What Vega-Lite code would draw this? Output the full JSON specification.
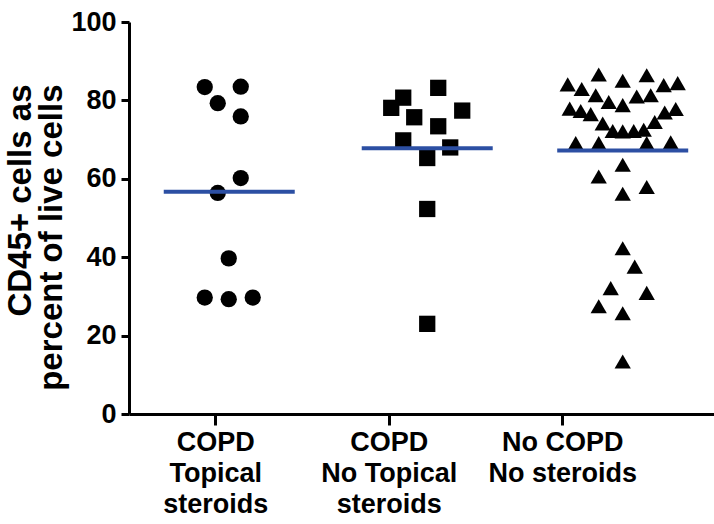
{
  "$schema": "https://vega.github.io/schema/vega-lite/v6.json",
  "autosize": {"type": "none"},
  "width": 585,
  "height": 392,
  "padding": {"left": 129, "top": 22, "right": 0, "bottom": 110},
  "background": "white",
  "config": {
    "view": {"stroke": null},
    "font": "Liberation Sans",
    "axis": {
      "labelFont": "Liberation Sans",
      "titleFont": "Liberation Sans",
      "labelFontWeight": "bold",
      "titleFontWeight": "bold",
      "labelColor": "black",
      "titleColor": "black",
      "domainColor": "black",
      "tickColor": "black",
      "domainWidth": 3,
      "tickWidth": 3,
      "grid": false
    }
  },
  "datasets": {
    "points": [
      {"group": "COPD Topical steroids", "pct": 83.4, "dx": -11},
      {"group": "COPD Topical steroids", "pct": 83.5, "dx": 25},
      {"group": "COPD Topical steroids", "pct": 79.3, "dx": 2},
      {"group": "COPD Topical steroids", "pct": 75.9, "dx": 25},
      {"group": "COPD Topical steroids", "pct": 60.2, "dx": 25},
      {"group": "COPD Topical steroids", "pct": 56.4, "dx": 2},
      {"group": "COPD Topical steroids", "pct": 39.7, "dx": 13},
      {"group": "COPD Topical steroids", "pct": 29.7, "dx": -11},
      {"group": "COPD Topical steroids", "pct": 29.3, "dx": 13},
      {"group": "COPD Topical steroids", "pct": 29.7, "dx": 37},
      {"group": "COPD No Topical steroids", "pct": 83.2, "dx": 49},
      {"group": "COPD No Topical steroids", "pct": 80.7, "dx": 14},
      {"group": "COPD No Topical steroids", "pct": 78.1, "dx": 2},
      {"group": "COPD No Topical steroids", "pct": 77.4, "dx": 73},
      {"group": "COPD No Topical steroids", "pct": 75.7, "dx": 25},
      {"group": "COPD No Topical steroids", "pct": 73.4, "dx": 49},
      {"group": "COPD No Topical steroids", "pct": 69.8, "dx": 14},
      {"group": "COPD No Topical steroids", "pct": 68.0, "dx": 61},
      {"group": "COPD No Topical steroids", "pct": 65.3, "dx": 38},
      {"group": "COPD No Topical steroids", "pct": 52.3, "dx": 38},
      {"group": "COPD No Topical steroids", "pct": 23.0, "dx": 38},
      {"group": "No COPD No steroids", "pct": 86.6, "dx": 36},
      {"group": "No COPD No steroids", "pct": 86.4, "dx": 84},
      {"group": "No COPD No steroids", "pct": 84.1, "dx": 5},
      {"group": "No COPD No steroids", "pct": 85.0, "dx": 60},
      {"group": "No COPD No steroids", "pct": 83.9, "dx": 101},
      {"group": "No COPD No steroids", "pct": 84.4, "dx": 115},
      {"group": "No COPD No steroids", "pct": 82.9, "dx": 19},
      {"group": "No COPD No steroids", "pct": 81.3, "dx": 33},
      {"group": "No COPD No steroids", "pct": 81.0, "dx": 74},
      {"group": "No COPD No steroids", "pct": 81.3, "dx": 88},
      {"group": "No COPD No steroids", "pct": 79.6, "dx": 46},
      {"group": "No COPD No steroids", "pct": 78.8, "dx": 60},
      {"group": "No COPD No steroids", "pct": 77.9, "dx": 7},
      {"group": "No COPD No steroids", "pct": 77.3, "dx": 18},
      {"group": "No COPD No steroids", "pct": 76.5, "dx": 28},
      {"group": "No COPD No steroids", "pct": 76.9, "dx": 102},
      {"group": "No COPD No steroids", "pct": 77.8, "dx": 113},
      {"group": "No COPD No steroids", "pct": 74.1, "dx": 40},
      {"group": "No COPD No steroids", "pct": 74.5, "dx": 92},
      {"group": "No COPD No steroids", "pct": 72.2, "dx": 50},
      {"group": "No COPD No steroids", "pct": 72.1, "dx": 60},
      {"group": "No COPD No steroids", "pct": 72.2, "dx": 71},
      {"group": "No COPD No steroids", "pct": 72.5, "dx": 81},
      {"group": "No COPD No steroids", "pct": 69.1, "dx": 13},
      {"group": "No COPD No steroids", "pct": 69.1, "dx": 36},
      {"group": "No COPD No steroids", "pct": 69.1, "dx": 84},
      {"group": "No COPD No steroids", "pct": 69.3, "dx": 108},
      {"group": "No COPD No steroids", "pct": 63.6, "dx": 60},
      {"group": "No COPD No steroids", "pct": 60.6, "dx": 36},
      {"group": "No COPD No steroids", "pct": 57.9, "dx": 84},
      {"group": "No COPD No steroids", "pct": 56.2, "dx": 60},
      {"group": "No COPD No steroids", "pct": 42.3, "dx": 60},
      {"group": "No COPD No steroids", "pct": 37.6, "dx": 72},
      {"group": "No COPD No steroids", "pct": 32.1, "dx": 48},
      {"group": "No COPD No steroids", "pct": 30.9, "dx": 84},
      {"group": "No COPD No steroids", "pct": 27.5, "dx": 36},
      {"group": "No COPD No steroids", "pct": 25.7, "dx": 60},
      {"group": "No COPD No steroids", "pct": 13.4, "dx": 60}
    ],
    "means": [
      {"group": "COPD Topical steroids", "pct": 56.7, "dx": 13.5},
      {"group": "COPD No Topical steroids", "pct": 67.8, "dx": 38},
      {"group": "No COPD No steroids", "pct": 67.2, "dx": 60}
    ]
  },
  "encoding": {
    "x": {
      "field": "group",
      "type": "nominal",
      "sort": ["COPD Topical steroids", "COPD No Topical steroids", "No COPD No steroids"],
      "scale": {"domain": ["COPD Topical steroids", "COPD No Topical steroids", "No COPD No steroids"], "paddingInner": 0, "paddingOuter": 0.186, "align": 0},
      "axis": {
        "title": null,
        "labelAngle": 0,
        "labelFontSize": 27,
        "labelLineHeight": 31,
        "labelPadding": 4,
        "tickSize": 11,
        "labelExpr": "datum.label == 'COPD Topical steroids' ? ['COPD', 'Topical', 'steroids'] : datum.label == 'COPD No Topical steroids' ? ['COPD', 'No Topical', 'steroids'] : ['No COPD', 'No steroids']"
      }
    },
    "xOffset": {"field": "dx", "type": "quantitative", "scale": {"domain": [-86.75, 86.75]}},
    "y": {
      "field": "pct",
      "type": "quantitative",
      "scale": {"domain": [0, 100], "nice": false, "zero": true},
      "axis": {
        "title": ["CD45+ cells as", "percent of live cells"],
        "titleFontSize": 33,
        "titleLineHeight": 31,
        "titlePadding": 2,
        "titleAlign": "right",
        "titleY": 62,
        "values": [0, 20, 40, 60, 80, 100],
        "labelFontSize": 27,
        "labelPadding": 5,
        "tickSize": 8
      }
    }
  },
  "layer": [
    {
      "data": {"name": "points"},
      "mark": {"type": "point", "filled": true, "opacity": 1, "color": "black", "size": 265},
      "encoding": {
        "shape": {
          "field": "group",
          "type": "nominal",
          "scale": {"domain": ["COPD Topical steroids", "COPD No Topical steroids", "No COPD No steroids"], "range": ["circle", "square", "triangle-up"]},
          "legend": null
        }
      }
    },
    {
      "data": {"name": "means"},
      "mark": {"type": "tick", "color": "#2C4FA3", "opacity": 1, "thickness": 4, "size": 131, "orient": "horizontal"},
      "encoding": {}
    }
  ]
}
